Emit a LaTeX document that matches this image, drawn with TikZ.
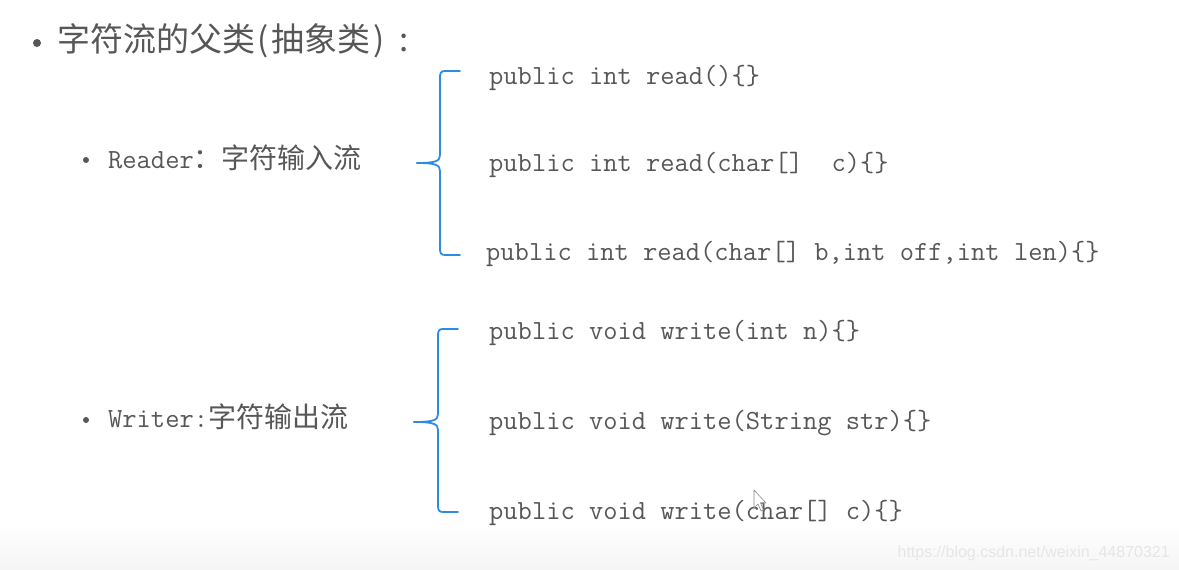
\documentclass[tikz,border=0pt]{standalone}
\usepackage{fontspec}
\newfontfamily\cjk{Noto Sans CJK SC}
\newfontfamily\wmfont{Liberation Sans}
\definecolor{txt}{HTML}{575757}
\definecolor{brc}{RGB}{45,140,225}
\definecolor{wmc}{HTML}{E6E6E6}
\newcommand{\hw}[1]{\makebox[0.5em][c]{#1}}
\newcommand{\fw}[1]{\makebox[1em][c]{#1}}
\tikzset{
  codeline/.style={anchor=base west, inner sep=0pt, text=txt, font=\fontsize{27.7}{30}\selectfont\ttfamily},
  itemline/.style={anchor=base west, inner sep=0pt, text=txt, font=\fontsize{27.7}{30}\selectfont\ttfamily},
  titleline/.style={anchor=base west, inner sep=0pt, text=txt, font=\fontsize{33}{38}\selectfont\cjk},
  dot/.style={fill=txt, draw=none},
  bracestyle/.style={draw=brc, line width=1.8pt, line join=round, line cap=round},
}
\begin{document}
\begin{tikzpicture}[x=1pt,y=-1pt]
\useasboundingbox (0,0) rectangle (1179,570);
\fill[white] (0,0) rectangle (1179,530);
\shade[top color=white, bottom color=black!4] (0,525) rectangle (1179,570);

% title
\fill[dot] (37,43) circle (4);
\node[titleline] (title) at (57,51) {字符流的父类\hw{(}抽象类\hw{)}\fw{:}};

% Reader
\fill[dot] (86,160) circle (3);
\node[itemline] (reader) at (108,168) {Reader{\cjk\fontsize{28}{30}\selectfont ：字符输入流}};

% Writer
\fill[dot] (86,420) circle (3);
\node[itemline] (writer) at (108,427) {Writer:{\cjk\fontsize{28}{30}\selectfont 字符输出流}};

% read methods
\node[codeline] (r1) at (489,84) {public int read()\{\}};
\node[codeline] (r2) at (489,171) {public int read(char[]\ \ c)\{\}};
\node[codeline] (r3) at (486,260) {public int read(char[] b,int off,int len)\{\}};

% write methods
\node[codeline] (w1) at (489,339) {public void write(int n)\{\}};
\node[codeline] (w2) at (489,429) {public void write(String str)\{\}};
\node[codeline] (w3) at (489,519) {public void write(char[] c)\{\}};

% brace for reader
\coordinate (b1top) at (460,71);
\coordinate (b1tip) at (417,163);
\coordinate (b1bot) at (460,255);
\draw[bracestyle] (b1top) -- (445,71) .. controls (441,71) and (440,73) .. (440,77)
  -- (440,155) .. controls (440,161) and (436,163) .. (b1tip);
\draw[bracestyle] (b1tip) .. controls (436,163) and (440,165) .. (440,171)
  -- (440,249) .. controls (440,253) and (441,255) .. (445,255) -- (b1bot);

% brace for writer
\coordinate (b2top) at (458,329);
\coordinate (b2tip) at (414,422);
\coordinate (b2bot) at (458,512);
\draw[bracestyle] (b2top) -- (443,329) .. controls (439,329) and (438,331) .. (438,335)
  -- (438,414) .. controls (438,420) and (434,422) .. (b2tip);
\draw[bracestyle] (b2tip) .. controls (434,422) and (438,424) .. (438,430)
  -- (438,506) .. controls (438,510) and (439,512) .. (443,512) -- (b2bot);

% cursor
\draw[black!45, fill=white, fill opacity=0.5, line width=0.6pt, line join=round]
  (754,490) -- (754,508) -- (758,504) -- (761,511) -- (763.5,510) -- (760.5,503) -- (766,503) -- cycle;

% watermark
\node[anchor=base east, inner sep=0pt, text=wmc, font=\fontsize{16}{20}\selectfont\wmfont] (wm) at (1170,557) {https://blog.csdn.net/weixin\_44870321};
\end{tikzpicture}
\end{document}
